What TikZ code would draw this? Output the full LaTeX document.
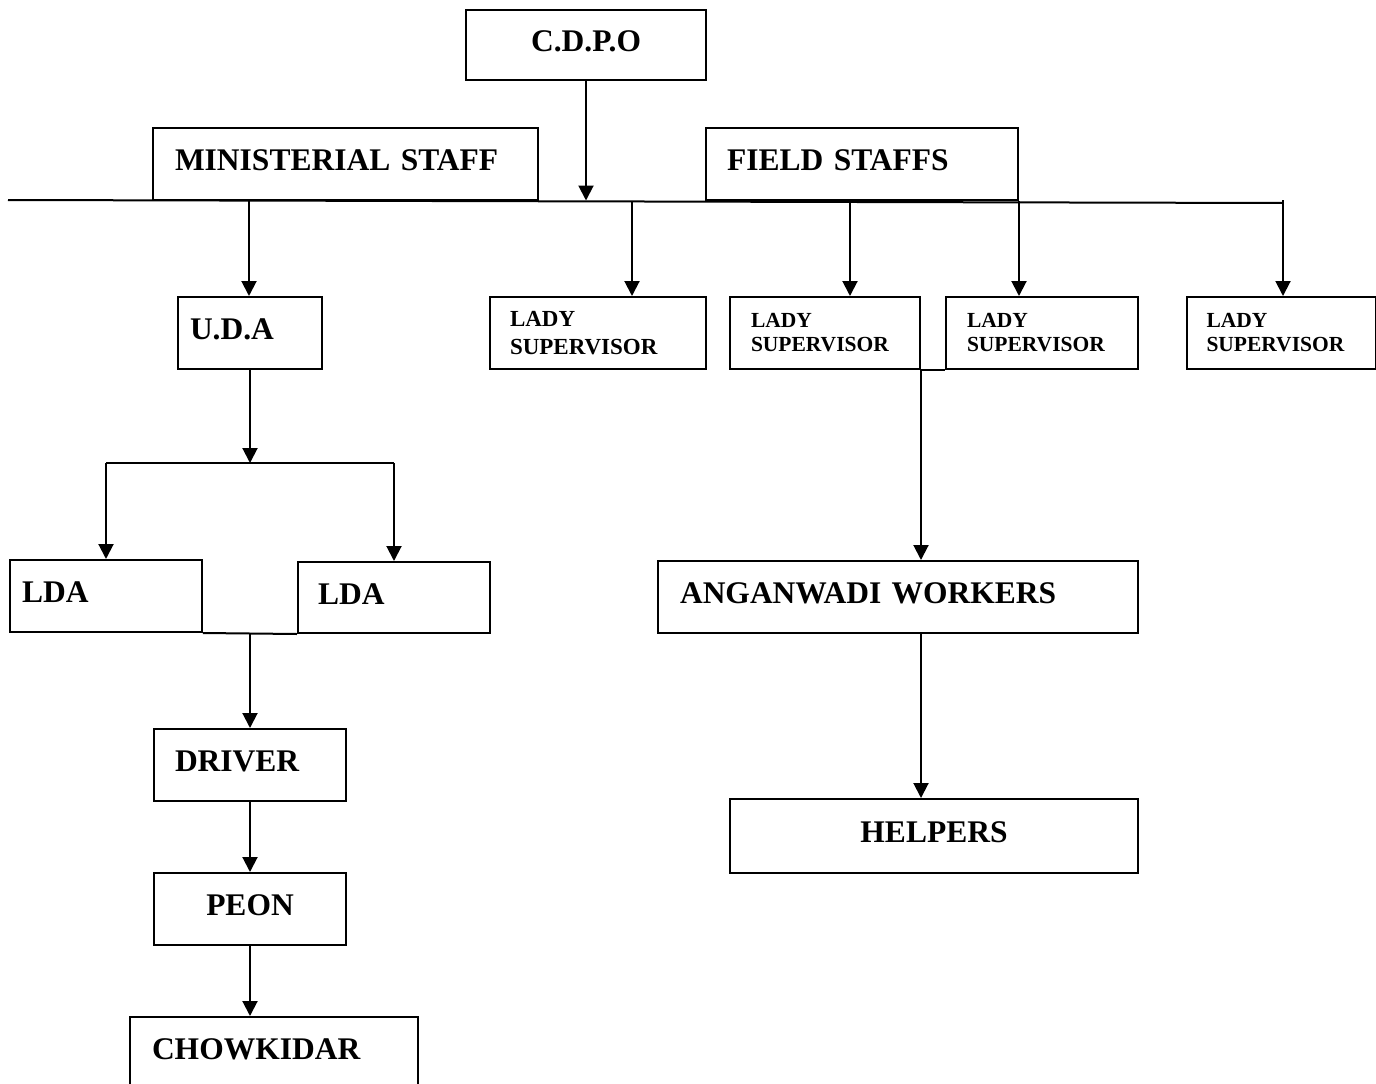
\documentclass[tikz,border=0pt]{standalone}
\usepackage{fontspec}
\setmainfont{Liberation Serif}
\usetikzlibrary{arrows.meta,calc}
\begin{document}
\begin{tikzpicture}[x=1pt,y=-1pt,
  box/.style={draw, line width=2pt, rectangle, inner ysep=0pt, align=left},
  big/.style={font=\bfseries\fontsize{31.5}{36}\selectfont, text depth=7pt},
  mid/.style={font=\bfseries\fontsize{23}{28}\selectfont},
  small/.style={font=\bfseries\fontsize{21.5}{24}\selectfont},
  arr/.style={line width=2pt, -{Triangle[width=15pt,length=15pt]}},
  ln/.style={line width=2pt}]
\useasboundingbox (0,0) rectangle (1376,1084);

% top level
\node[box,big,align=center,minimum width=240pt,minimum height=70pt,inner xsep=20pt,text width=200pt] (cdpo) at (586,45) {C.D.P.O};
\node[box,big,minimum width=385pt,minimum height=72pt,inner xsep=22pt,text width=341pt] (min) at (345.5,164) {MINISTERIAL STAFF};
\node[box,big,minimum width=312pt,minimum height=72pt,inner xsep=21pt,text width=270pt] (field) at (862,164) {FIELD STAFFS};

% main horizontal line
\coordinate (L) at (8,200);
\coordinate (R) at (1283,203);
\draw[ln] (L) -- (R);
\draw[arr] (cdpo.south) -- (cdpo.south |- 0,200.5);

% second level
\node[box,big,minimum width=144pt,minimum height=72pt,inner xsep=12pt,text width=120pt] (uda) at (250,333) {U.D.A};
\node[box,mid,minimum width=216pt,minimum height=72pt,inner xsep=20pt,text width=176pt] (ls1) at (598,333) {LADY\\SUPERVISOR};
\node[box,small,minimum width=190pt,minimum height=72pt,inner xsep=21pt,text width=148pt] (ls2) at (825,333) {LADY\\SUPERVISOR};
\node[box,small,minimum width=192pt,minimum height=72pt,inner xsep=21pt,text width=150pt] (ls3) at (1042,333) {LADY\\SUPERVISOR};
\node[box,small,minimum width=189pt,minimum height=72pt,inner xsep=20pt,text width=149pt] (ls4) at (1281,333) {LADY\\SUPERVISOR};

\coordinate (t0) at (249,200);
\coordinate (t1) at (632,201);
\coordinate (t2) at (850,202);
\coordinate (t4) at (1283,200);
\draw[arr] (t0) -- (t0 |- uda.north);
\draw[arr] (t1) -- (t1 |- ls1.north);
\draw[arr] (t2) -- (t2 |- ls2.north);
\draw[arr] (field.south east) -- (field.south east |- ls3.north);
\draw[arr] (t4) -- (t4 |- ls4.north);

% ministerial branch
\node[box,big,minimum width=192pt,minimum height=72pt,inner xsep=12pt,text width=168pt] (lda1) at (106,596) {LDA};
\node[box,big,minimum width=192pt,minimum height=71pt,inner xsep=20pt,text width=152pt] (lda2) at (394,597.5) {LDA};
\coordinate (ub) at (250,463);
\draw[arr] (uda.south) -- (ub);
\draw[ln] (lda1.north |- ub) -- (lda2.north |- ub);
\draw[arr] (lda1.north |- ub) -- (lda1.north);
\draw[arr] (lda2.north |- ub) -- (lda2.north);

\node[box,big,minimum width=192pt,minimum height=72pt,inner xsep=21pt,text width=150pt] (driver) at (250,765) {DRIVER};
\node[box,big,align=center,minimum width=192pt,minimum height=72pt,inner xsep=20pt,text width=152pt] (peon) at (250,909) {PEON};
\node[box,big,minimum width=288pt,minimum height=72pt,inner xsep=22pt,text width=244pt] (chow) at (274,1053) {CHOWKIDAR};

\draw[ln] (lda1.south east) -- (lda2.south west);
\coordinate (lj) at ($(lda1.south east)!0.5!(lda2.south west)$);
\draw[arr] (lj) -- (lj |- driver.north);
\draw[arr] (driver.south) -- (peon.north);
\draw[arr] (peon.south) -- (peon.south |- chow.north);

% field branch
\node[box,big,minimum width=480pt,minimum height=72pt,inner xsep=22pt,text width=436pt] (ang) at (898,597) {ANGANWADI WORKERS};
\node[box,big,align=center,minimum width=408pt,minimum height=74pt,inner xsep=20pt,text width=368pt] (help) at (934,836) {HELPERS};

\draw[ln] (ls2.south east) -- (ls3.south west);
\draw[arr] (ls2.south east) -- (ls2.south east |- ang.north);
\draw[arr] (ls2.south east |- ang.south) -- (ls2.south east |- help.north);
\end{tikzpicture}
\end{document}
